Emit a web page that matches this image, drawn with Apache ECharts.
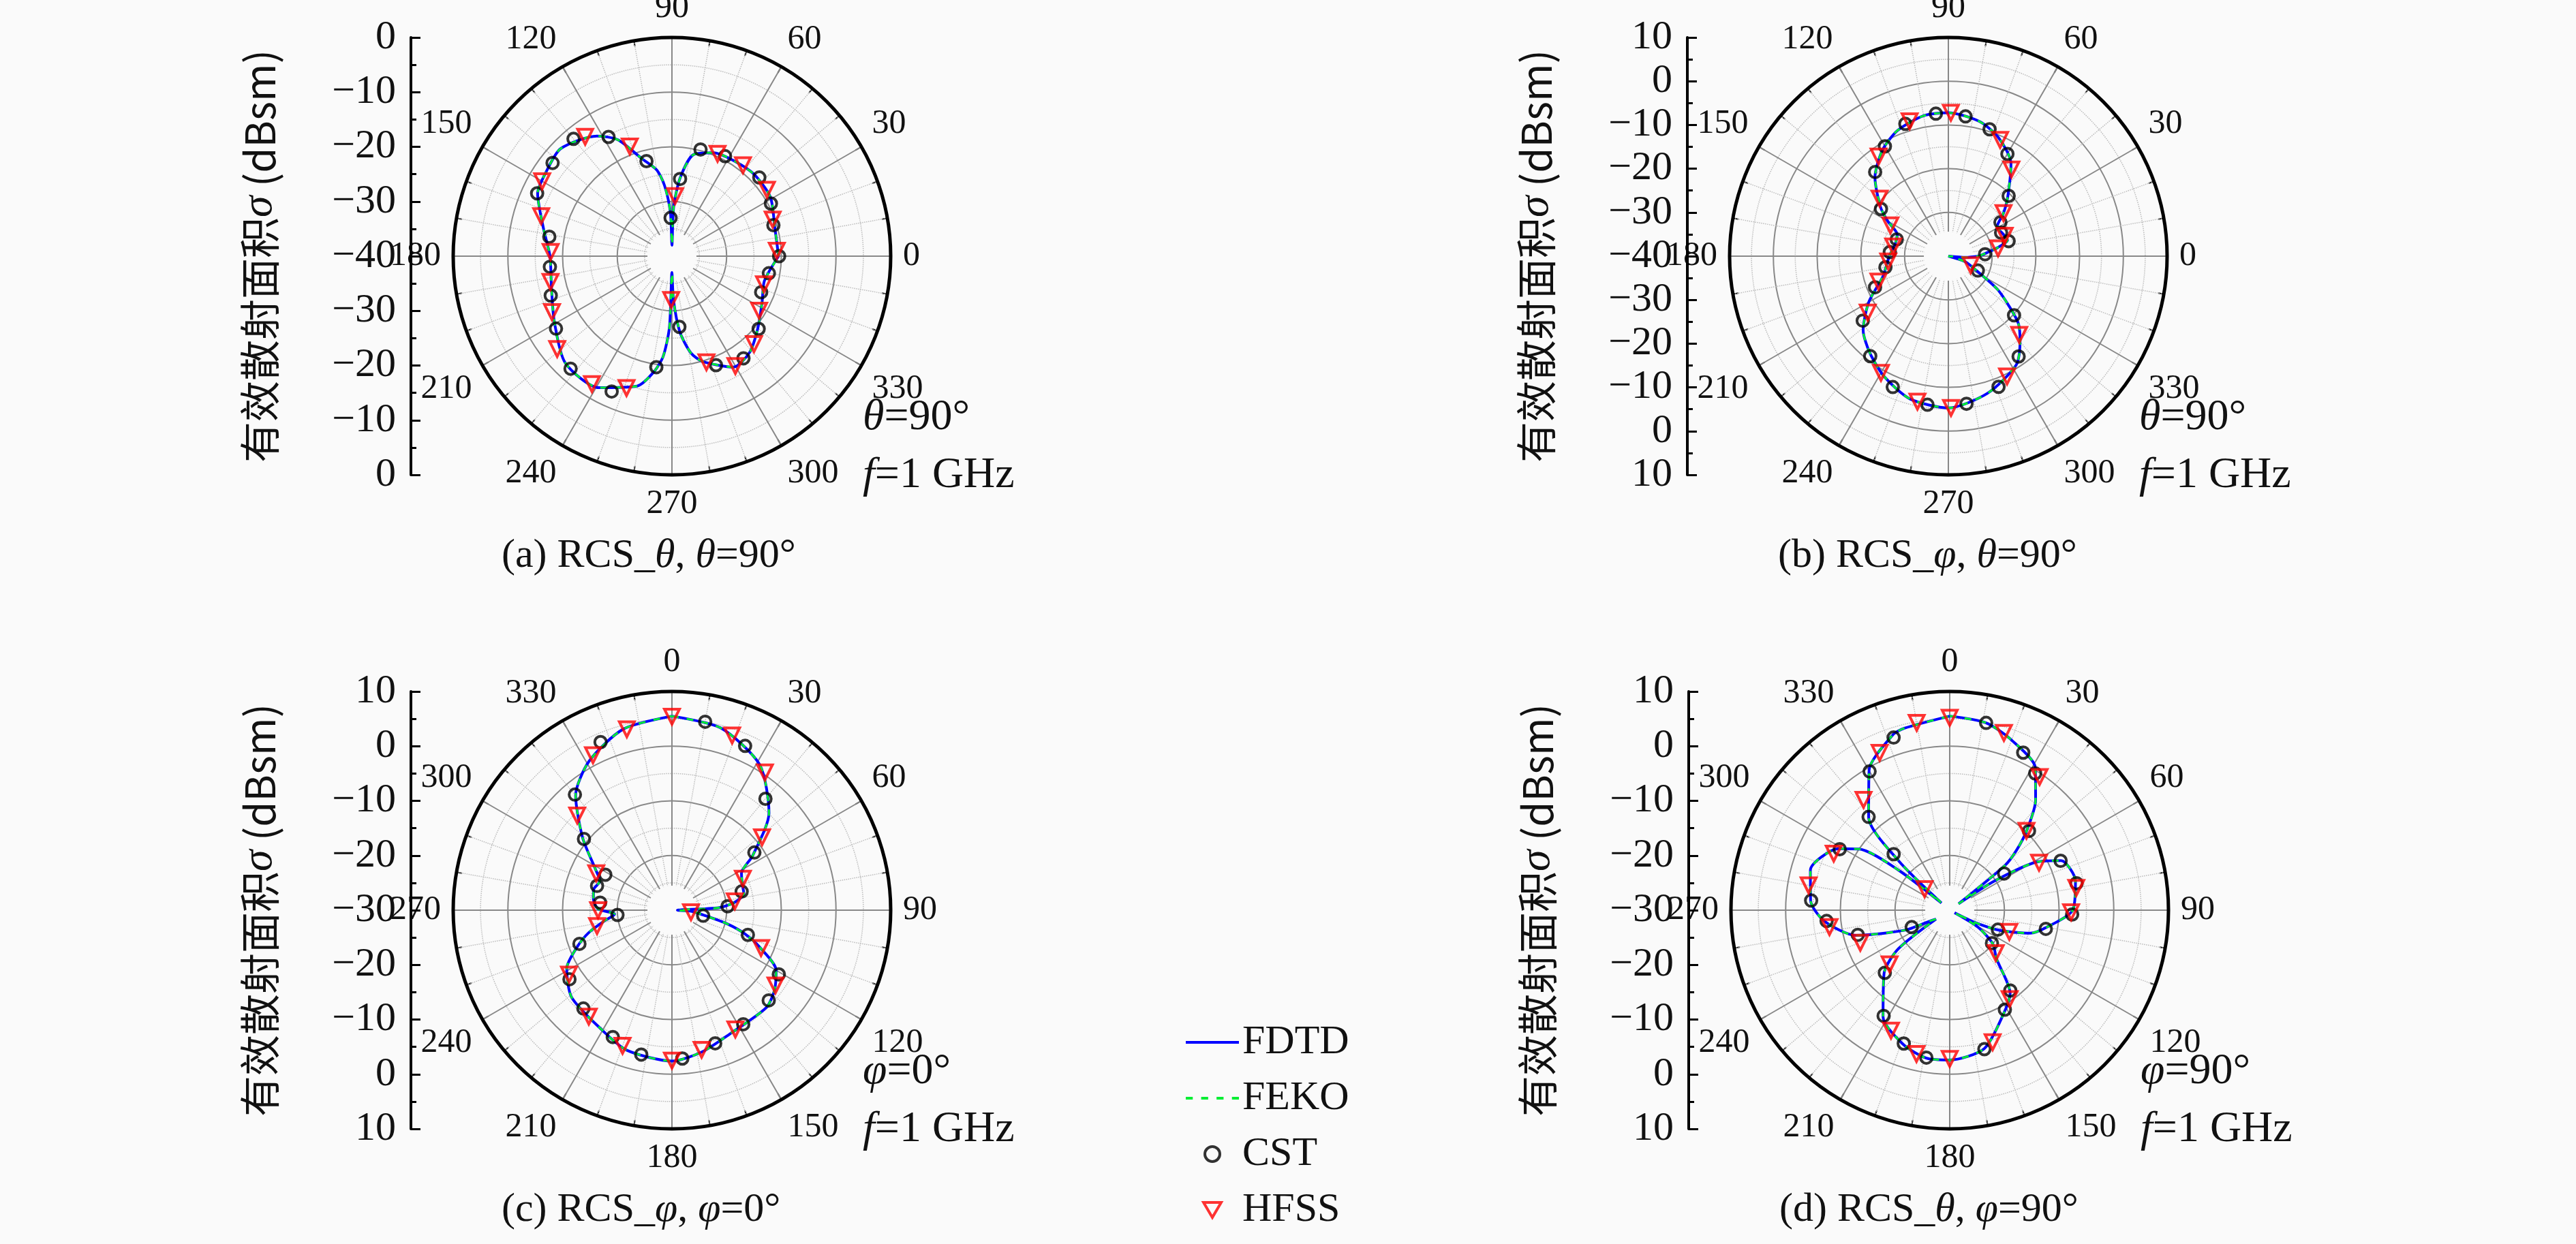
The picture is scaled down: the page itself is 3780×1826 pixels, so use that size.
<!DOCTYPE html>
<html>
<head>
<meta charset="utf-8">
<script src="https://cdn.jsdelivr.net/npm/echarts@6/dist/echarts.min.js"></script>
<style>
html, body { margin: 0; padding: 0; background: #fafafa; }
#chart { width: 3780px; height: 1826px; }
</style>
</head>
<body>
<div id="chart"></div>
<script>
// [angle, dBsm] pairs
var fdtdA = [[0,-20.5],[15,-20.5],[31,-19],[45,-18.8],[57,-19.2],[68,-19.6],[78,-21],[84,-25.6],[88,-31],[90,-38],[92,-32],[96,-27],[100,-24],[107,-21.4],[115,-16.5],[122,-14.1],[136,-11.7],[146,-12.3],[155,-12.9],[168,-16],[180,-17.7],[195,-17.2],[209,-15.4],[225,-12.4],[241,-12.5],[255,-15.4],[261,-18.5],[265,-21.6],[268,-27],[270,-37],[272,-32],[276,-26],[281,-22],[286,-20],[299,-16.8],[309,-17.4],[320,-19.5],[333,-21.5],[345,-22.5],[360,-20.5]];
var cstA = [[0,-20.4],[17,-20.6],[28,-19.5],[42,-18.5],[62,-19.3],[75,-19.8],[84,-25.8],[92,-33],[105,-22],[118,-15.3],[130,-12],[142,-12.3],[155,-12.8],[171,-17.3],[185,-17.6],[198,-16.7],[212,-15],[228,-12.3],[246,-12.9],[262,-19.5],[276,-27],[292,-18.5],[305,-17.2],[320,-19.3],[338,-22.4],[350,-22]];
var hfssA = [[3,-20.8],[20,-20.4],[35,-18.8],[52,-18.9],[66,-19.5],[87,-29],[111,-18.5],[126,-13],[150,-12.6],[163,-15],[178,-17.8],[192,-17.3],[205,-15.8],[219,-13],[238,-12.4],[251,-14.5],[269,-32],[288,-19.6],[300,-16.8],[313,-18],[328,-21.2],[343,-22.4]];

var fdtdB = [[0,-33],[5,-31.2],[10,-28.5],[15,-26],[22,-26.5],[31,-27],[38,-24],[45,-20.8],[56,-14.4],[67,-10.6],[77,-8.4],[90,-7.2],[100,-7.4],[112,-9],[122,-11.5],[133,-15.4],[144,-20.8],[150,-24],[157,-27.3],[168,-27.5],[180,-26.5],[197,-24.4],[210,-19],[221,-14.2],[231,-11.5],[242,-8.8],[255,-6.2],[270,-5.3],[286,-7.4],[302,-10.7],[310,-14.5],[316,-17.7],[320,-21.5],[326,-26.5],[333,-32.8],[342,-36],[350,-40],[356,-36],[360,-33]];
var cstB = [[3,-31.6],[14,-25.8],[24,-26.8],[33,-25.8],[45,-20.5],[60,-13],[72,-9.5],[83,-7.8],[95,-7.3],[108,-8.2],[120,-11],[131,-14.5],[145,-21.2],[162,-27.6],[176,-26.6],[190,-25.4],[203,-21.8],[217,-15.5],[232,-11],[247,-7.5],[262,-5.7],[277,-6],[291,-8],[305,-12],[318,-19.8],[334,-32.5]];
var hfssB = [[9,-28.5],[20,-26.3],[38,-24],[54,-15.5],[66,-10.9],[89,-7.2],[106,-7.9],[125,-12.2],[140,-19.5],[152,-25],[170,-27.2],[185,-26.2],[200,-23],[215,-17.5],[240,-9.2],[258,-6],[271,-5.3],[296,-9.4],[312,-15.8],[338,-34.5]];

var fdtdC = [[0,5.5],[15,4.5],[31,1.1],[45,-4.9],[56,-12.2],[62,-15.6],[70,-16.3],[77,-16.5],[83,-18.5],[87,-21.5],[90,-29],[93,-26.5],[99,-24],[104,-19.5],[108,-16],[113,-12.5],[120,-8],[128,-6.2],[136,-5.2],[155,-5],[168,-3.5],[180,-2.4],[198,-3.1],[211,-4.7],[229,-5.7],[241,-8],[249,-11.5],[255,-14.3],[261,-17.5],[266,-19.5],[271,-16.5],[278,-15.5],[285,-15.2],[292,-15.8],[298,-14.2],[309,-9],[320,-2.6],[331,1.2],[345,4.3],[360,5.5]];
var cstC = [[10,5.0],[24,2.9],[40,-3.4],[55,-11.6],[75,-16.8],[86,-19.8],[100,-24.2],[108,-15.4],[121,-7.2],[133,-5.8],[148,-5.4],[162,-4.4],[176,-2.8],[192,-3],[205,-4.4],[222,-5.8],[236,-7.4],[250,-12],[265,-20],[276,-16.8],[288,-15.6],[298,-16.2],[309,-9.3],[320,-2.4],[337,3.4]];
var hfssC = [[0,5.4],[19,3.8],[34,0.4],[51,-8.8],[66,-15.8],[82,-18.4],[96,-26.5],[113,-12.3],[126,-6.6],[152,-5.3],[168,-3.9],[180,-2.5],[200,-3.6],[218,-5.3],[238,-7.8],[258,-16],[270,-16.5],[296,-14.6],[315,-5.5],[333,1.8],[346,4.1]];

var fdtdD = [[0,5.5],[11,4.9],[20,3.1],[31,0.4],[38,-4.5],[44,-9.7],[48,-13.5],[51,-17],[54,-28],[57,-20],[61,-11.8],[66,-7.7],[77,-6.4],[90,-7.5],[100,-12],[106,-14.7],[112,-20.2],[116,-25],[118,-29],[121,-24],[128,-20],[136,-17.7],[144,-11.2],[152,-8.8],[166,-3.9],[180,-2.6],[189,-2.6],[199,-4],[212,-7],[226,-13.3],[233,-18.2],[237,-27],[241,-26],[246,-21],[255,-12.2],[265,-7],[274,-4.5],[286,-3.5],[299,-6.8],[304,-10],[308,-18],[311,-28],[314,-17],[319,-7.4],[330,-0.5],[342,3.7],[346,4.3],[360,5.5]];
var cstD = [[11,4.9],[25,1.8],[32,-0.5],[45,-9.5],[56,-18],[66,-7.8],[78,-6.3],[92,-7.6],[101,-12.1],[112,-20.5],[128,-20.2],[143,-11.6],[151,-9.2],[166,-3.8],[189,-2.7],[199,-4.2],[212,-7.2],[226,-13.5],[246,-22.4],[255,-12.6],[265,-7.4],[274,-4.6],[299,-7],[315,-15.5],[319,-7.4],[330,-0.7],[342,3.2]];
var hfssD = [[0,5.2],[17,3.9],[34,-0.6],[44,-9.8],[62,-11.5],[80,-6.5],[91,-7.8],[110,-18.4],[133,-18.5],[146,-10.4],[162,-4.6],[180,-2.8],[193,-3],[206,-5.5],[228,-15.2],[250,-12.6],[262,-7.8],[280,-3.8],[296,-6.4],[310,-24],[322,-4.4],[336,1.5],[350,4.8]];

var captions = [
  ['(a) RCS_', 'θ', ', ', 'θ', '=90°'],
  ['(b) RCS_', 'φ', ', ', 'θ', '=90°'],
  ['(c) RCS_', 'φ', ', ', 'φ', '=0°'],
  ['(d) RCS_', 'θ', ', ', 'φ', '=90°']
];
var condAngle = [['θ', '=90°'], ['θ', '=90°'], ['φ', '=0°'], ['φ', '=90°']];

var serif = 'Liberation Serif';
var R = 321;
var panels = [
  {cx: 986, cy: 376, rmin: -40, rmax: 0, start: 0, cw: false, fdtd: fdtdA, cst: cstA, hfss: hfssA},
  {cx: 2859, cy: 376, rmin: -40, rmax: 10, start: 0, cw: false, fdtd: fdtdB, cst: cstB, hfss: hfssB},
  {cx: 986, cy: 1336, rmin: -30, rmax: 10, start: 90, cw: true, fdtd: fdtdC, cst: cstC, hfss: hfssC},
  {cx: 2861, cy: 1336, rmin: -30, rmax: 10, start: 90, cw: true, fdtd: fdtdD, cst: cstD, hfss: hfssD}
];

function toPolar(arr) {
  return arr.map(function (p) { return [p[1], p[0]]; });
}
function fmt(v) {
  return v < 0 ? '\u2212' + Math.abs(v) : String(v);
}

var polar = [], angleAxis = [], radiusAxis = [], grid = [], xAxis = [], yAxis = [], series = [], graphic = [];

panels.forEach(function (p, i) {
  polar.push({center: [p.cx, p.cy], radius: R});
  angleAxis.push({
    polarIndex: i, type: 'value', min: 0, max: 360, interval: 30,
    startAngle: p.start, clockwise: p.cw,
    axisLine: {lineStyle: {color: '#000', width: 5}},
    axisTick: {show: true, inside: true, length: 10, lineStyle: {color: '#000', width: 2}},
    minorTick: {show: true, splitNumber: 3, length: 8, lineStyle: {color: '#000', width: 2}},
    axisLabel: {fontFamily: serif, fontSize: 50, color: '#111', margin: 18,
      formatter: function (v) { return v === 360 ? '' : String(v); }},
    splitLine: {show: true, lineStyle: {color: '#888', width: 2}},
    minorSplitLine: {show: true, lineStyle: {color: '#bbb', width: 1.5, type: 'dotted'}}
  });
  radiusAxis.push({
    polarIndex: i, type: 'value', min: p.rmin, max: p.rmax, interval: 10,
    axisLine: {show: false}, axisTick: {show: false}, axisLabel: {show: false},
    splitLine: {show: true, lineStyle: {color: '#888', width: 2}},
    minorTick: {show: false, splitNumber: 2},
    minorSplitLine: {show: true, lineStyle: {color: '#bbb', width: 1.5, type: 'dotted'}}
  });
  var span = p.rmax - p.rmin;
  grid.push({left: p.cx - 383, width: 10, top: p.cy - R, height: 2 * R});
  xAxis.push({gridIndex: i, type: 'value', show: false});
  yAxis.push({
    gridIndex: i, type: 'value', min: -span, max: span, interval: 10,
    axisLine: {show: true, lineStyle: {color: '#000', width: 4}},
    axisTick: {show: true, inside: true, length: 14, lineStyle: {color: '#000', width: 3}},
    minorTick: {show: true, splitNumber: 2, length: 8, lineStyle: {color: '#000', width: 3}},
    splitLine: {show: false},
    axisLabel: {fontFamily: serif, fontSize: 60, color: '#111', margin: 22,
      formatter: function (v) { return fmt(p.rmin + Math.abs(v)); }},
    name: '有效散射面积{i|σ} (dBsm)', nameLocation: 'middle', nameGap: 190, nameRotate: 90,
    nameTextStyle: {fontFamily: 'Noto Sans CJK SC', fontSize: 60, color: '#111',
      rich: {i: {fontFamily: serif, fontStyle: 'italic', fontSize: 64}}}
  });

  series.push({name: 'FDTD', type: 'line', coordinateSystem: 'polar', polarIndex: i,
    data: toPolar(p.fdtd), smooth: 0.25, symbol: 'none',
    lineStyle: {color: '#0000ff', width: 4}, itemStyle: {color: '#0000ff'}, z: 3});
  series.push({name: 'FEKO', type: 'line', coordinateSystem: 'polar', polarIndex: i,
    data: toPolar(p.fdtd), smooth: 0.25, symbol: 'none',
    lineStyle: {color: '#00ee33', width: 3, type: [10, 12]}, itemStyle: {color: '#00ee33'}, z: 4});
  series.push({name: 'CST', type: 'scatter', coordinateSystem: 'polar', polarIndex: i,
    data: toPolar(p.cst), symbol: 'circle', symbolSize: 17,
    itemStyle: {color: 'rgba(255,255,255,0)', borderColor: '#000', borderWidth: 4}, z: 5});
  series.push({name: 'HFSS', type: 'scatter', coordinateSystem: 'polar', polarIndex: i,
    data: toPolar(p.hfss), symbol: 'triangle', symbolRotate: 180, symbolSize: 22,
    itemStyle: {color: 'rgba(255,255,255,0)', borderColor: '#ff0000', borderWidth: 4}, z: 6});

  var c = captions[i];
  graphic.push({type: 'text', left: p.cx - 250, top: p.cy + 410, style: {
    rich: {n: {fontFamily: serif, fontSize: 60, fill: '#111'}, i: {fontFamily: serif, fontStyle: 'italic', fontSize: 60, fill: '#111'}},
    text: '{n|' + c[0] + '}{i|' + c[1] + '}{n|' + c[2] + '}{i|' + c[3] + '}{n|' + c[4] + '}'}});
  var a = condAngle[i];
  graphic.push({type: 'text', left: p.cx + 280, top: p.cy + 205, style: {
    rich: {n: {fontFamily: serif, fontSize: 64, fill: '#111'}, i: {fontFamily: serif, fontStyle: 'italic', fontSize: 64, fill: '#111'}},
    text: '{i|' + a[0] + '}{n|' + a[1] + '}'}});
  graphic.push({type: 'text', left: p.cx + 280, top: p.cy + 290, style: {
    rich: {n: {fontFamily: serif, fontSize: 64, fill: '#111'}, i: {fontFamily: serif, fontStyle: 'italic', fontSize: 64, fill: '#111'}},
    text: '{i|f}{n|=1 GHz}'}});
  // blank hole at the centre, as in the original plot
  graphic.push({type: 'circle', shape: {cx: p.cx, cy: p.cy, r: 36}, style: {fill: '#fafafa'}, z: 2});
});

var chart = echarts.init(document.getElementById('chart'));
chart.setOption({
  backgroundColor: '#fafafa',
  animation: false,
  polar: polar, angleAxis: angleAxis, radiusAxis: radiusAxis,
  grid: grid, xAxis: xAxis, yAxis: yAxis,
  legend: {
    orient: 'vertical', left: 1735, top: 1495, itemGap: 22, itemWidth: 78, itemHeight: 22,
    height: 330,
    data: [
      {name: 'FDTD', icon: 'path://M0,9L78,9L78,13L0,13Z', itemStyle: {color: '#0000ff', borderWidth: 0}},
      {name: 'FEKO', icon: 'path://M0,9L10,9L10,13L0,13ZM22,9L32,9L32,13L22,13ZM44,9L54,9L54,13L44,13ZM66,9L76,9L76,13L66,13Z', itemStyle: {color: '#00ee33', borderWidth: 0}},
      {name: 'CST', icon: 'circle', itemStyle: {color: 'rgba(0,0,0,0)', borderColor: '#000', borderWidth: 4}},
      {name: 'HFSS', icon: 'path://M0,0L20,0L10,17Z', itemStyle: {color: 'rgba(0,0,0,0)', borderColor: '#ff0000', borderWidth: 4}}
    ],
    textStyle: {fontFamily: serif, fontSize: 60, color: '#111'}
  },
  graphic: graphic,
  series: series
});
</script>
</body>
</html>
